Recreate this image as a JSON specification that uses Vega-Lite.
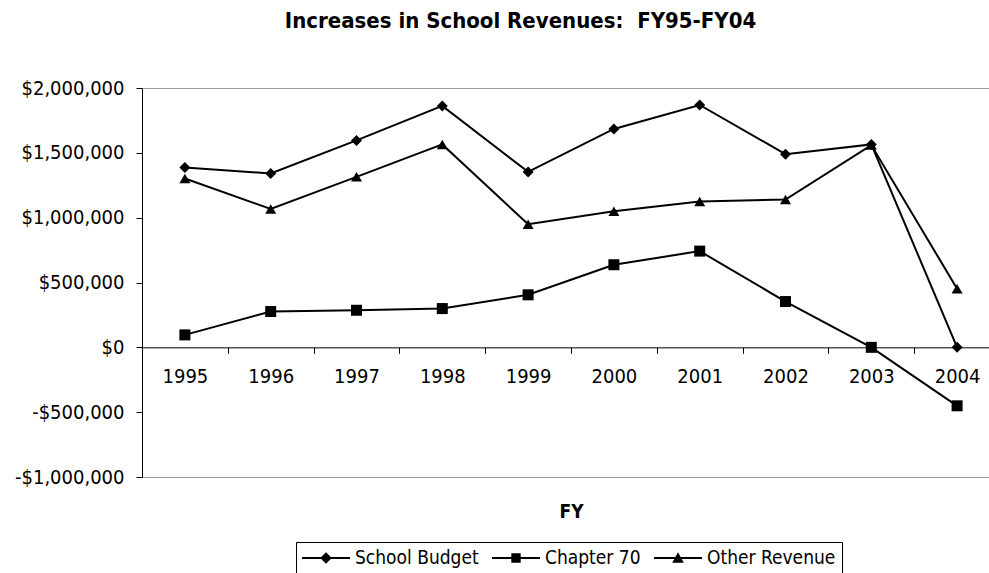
{
  "$schema": "https://vega.github.io/schema/vega-lite/v6.json",
  "autosize": {"type": "none"},
  "padding": {"left": 142, "top": 88, "right": 0, "bottom": 96},
  "width": 847,
  "height": 389,
  "background": "white",
  "title": {
    "text": "Increases in School Revenues:\u00a0 FY95-FY04",
    "font": "DejaVu Sans Condensed, DejaVu Sans",
    "fontSize": 22,
    "fontWeight": "bold",
    "color": "black",
    "anchor": "middle",
    "dx": -45,
    "offset": 45
  },
  "config": {
    "view": {"stroke": null},
    "font": "DejaVu Sans Condensed, DejaVu Sans"
  },
  "data": {
    "values": [
      {"year": "1995", "series": "School Budget", "value": 1387000},
      {"year": "1996", "series": "School Budget", "value": 1341000},
      {"year": "1997", "series": "School Budget", "value": 1596000},
      {"year": "1998", "series": "School Budget", "value": 1862000},
      {"year": "1999", "series": "School Budget", "value": 1353000},
      {"year": "2000", "series": "School Budget", "value": 1684000},
      {"year": "2001", "series": "School Budget", "value": 1869000},
      {"year": "2002", "series": "School Budget", "value": 1490000},
      {"year": "2003", "series": "School Budget", "value": 1565000},
      {"year": "2004", "series": "School Budget", "value": 0},
      {"year": "1995", "series": "Chapter 70", "value": 96000},
      {"year": "1996", "series": "Chapter 70", "value": 276000},
      {"year": "1997", "series": "Chapter 70", "value": 286000},
      {"year": "1998", "series": "Chapter 70", "value": 299000},
      {"year": "1999", "series": "Chapter 70", "value": 405000},
      {"year": "2000", "series": "Chapter 70", "value": 637000},
      {"year": "2001", "series": "Chapter 70", "value": 742000},
      {"year": "2002", "series": "Chapter 70", "value": 353000},
      {"year": "2003", "series": "Chapter 70", "value": 0},
      {"year": "2004", "series": "Chapter 70", "value": -451000},
      {"year": "1995", "series": "Other Revenue", "value": 1302000},
      {"year": "1996", "series": "Other Revenue", "value": 1067000},
      {"year": "1997", "series": "Other Revenue", "value": 1315000},
      {"year": "1998", "series": "Other Revenue", "value": 1565000},
      {"year": "1999", "series": "Other Revenue", "value": 949000},
      {"year": "2000", "series": "Other Revenue", "value": 1049000},
      {"year": "2001", "series": "Other Revenue", "value": 1124000},
      {"year": "2002", "series": "Other Revenue", "value": 1140000},
      {"year": "2003", "series": "Other Revenue", "value": 1560000},
      {"year": "2004", "series": "Other Revenue", "value": 452000}
    ]
  },
  "encoding": {
    "x": {
      "field": "year",
      "type": "ordinal",
      "scale": {"type": "band", "range": [0, 858], "paddingInner": 0, "paddingOuter": 0},
      "axis": {
        "title": "FY",
        "titleFont": "DejaVu Sans Condensed, DejaVu Sans",
        "titleFontSize": 19,
        "titleFontWeight": "bold",
        "titleColor": "black",
        "titleBaseline": "middle",
        "titleY": 164,
        "labelAngle": 0,
        "labelFont": "DejaVu Sans Condensed, DejaVu Sans",
        "labelFontSize": 20,
        "labelColor": "black",
        "labelPadding": 13,
        "tickBand": "extent",
        "tickSize": 6,
        "tickColor": "black",
        "domainColor": "black",
        "offset": {"expr": "scale('y', 0) - height"},
        "grid": false
      }
    },
    "y": {
      "field": "value",
      "type": "quantitative",
      "scale": {"domain": [-1000000, 2000000], "nice": false, "zero": false},
      "axis": {
        "title": null,
        "values": [-1000000, -500000, 0, 500000, 1000000, 1500000, 2000000],
        "labelExpr": "datum.value < 0 ? '-$' + format(-datum.value, ',') : '$' + format(datum.value, ',')",
        "labelFont": "DejaVu Sans Condensed, DejaVu Sans",
        "labelFontSize": 20,
        "labelColor": "black",
        "labelPadding": 12,
        "tickSize": 6,
        "tickColor": "black",
        "domainColor": "black",
        "grid": true,
        "gridColor": "#999999",
        "gridOpacity": {"condition": {"test": "datum.value === 2000000 || datum.value === -1000000", "value": 1}, "value": 0}
      }
    }
  },
  "layer": [
    {
      "mark": {"type": "line", "color": "black", "strokeWidth": 2},
      "encoding": {"detail": {"field": "series"}}
    },
    {
      "mark": {"type": "point", "filled": true, "color": "black", "opacity": 1, "size": 121},
      "encoding": {
        "shape": {
          "field": "series",
          "scale": {"domain": ["School Budget", "Chapter 70", "Other Revenue"], "range": ["diamond", "square", "triangle-up"]},
          "legend": null
        }
      }
    },
    {
      "mark": {"type": "point", "filled": true, "color": "black", "opacity": 0, "size": 400},
      "encoding": {
        "shape": {
          "field": "series",
          "scale": {
            "domain": ["School Budget", "Chapter 70", "Other Revenue"],
            "range": [
              "M-1,-0.1L3.8,-0.1L3.8,0.1L-1,0.1ZM1.4,-0.58L1.98,0L1.4,0.58L0.82,0Z",
              "M-1,-0.1L3.8,-0.1L3.8,0.1L-1,0.1ZM0.93,-0.47L1.87,-0.47L1.87,0.47L0.93,0.47Z",
              "M-1,-0.1L3.8,-0.1L3.8,0.1L-1,0.1ZM1.4,-0.58L1.98,0.47L0.82,0.47Z"
            ]
          },
          "legend": {
            "title": null,
            "orient": "none",
            "direction": "horizontal",
            "legendX": 154,
            "legendY": 454,
            "padding": 6,
            "strokeColor": "black",
            "labelFont": "DejaVu Sans Condensed, DejaVu Sans",
            "labelFontSize": 19,
            "labelColor": "black",
            "labelOffset": 33,
            "columnPadding": 13,
            "symbolSize": 400,
            "symbolFillColor": "black",
            "symbolStrokeColor": "black",
            "symbolStrokeWidth": 0,
            "symbolOpacity": 1,
            "labelLimit": 300
          }
        }
      }
    }
  ],
  "resolve": {"scale": {"shape": "independent"}}
}
